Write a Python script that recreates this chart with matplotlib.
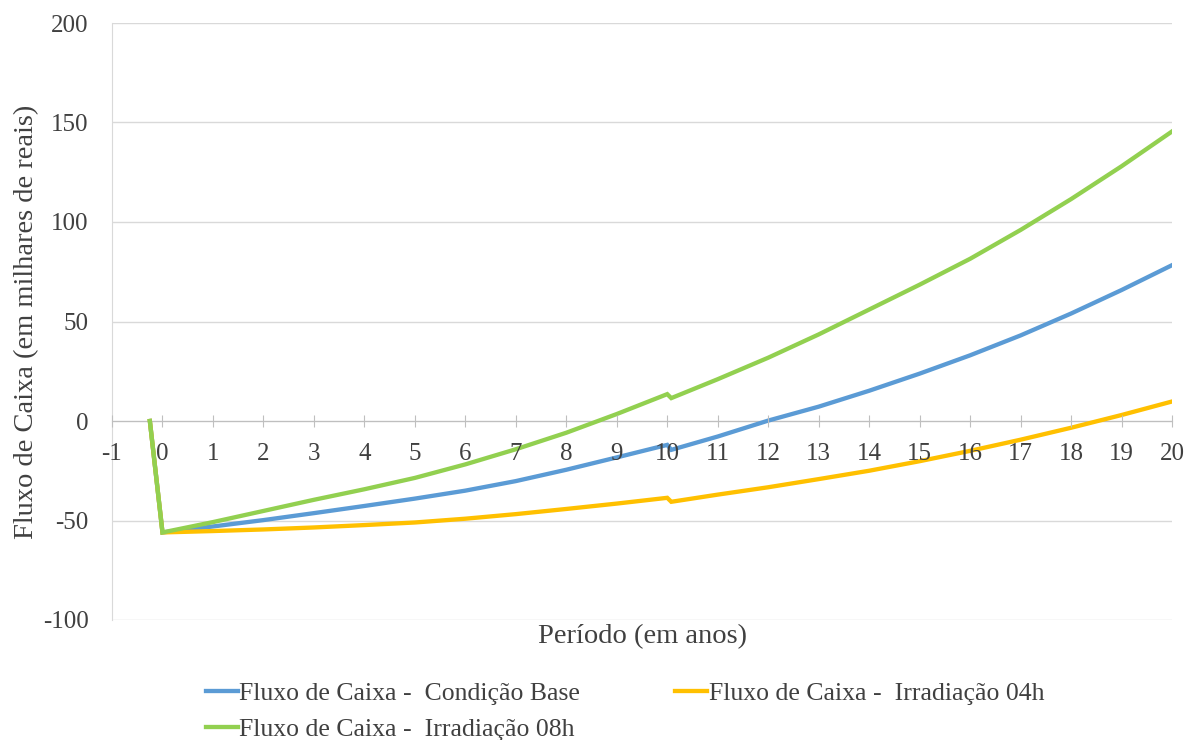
import matplotlib
matplotlib.use("Agg")
import matplotlib.pyplot as plt
from matplotlib.lines import Line2D

# Period in years (the drop right after year 10 is the inverter replacement)
periodo = [-0.25, 0, 1, 2, 3, 4, 5, 6, 7, 8, 9, 10, 10.08,
           11, 12, 13, 14, 15, 16, 17, 18, 19, 20]

# Cumulative cash flow, in thousands of reais
fluxo_base = [0, -56, -53.0, -49.8, -46.3, -42.7, -39.0, -35.0, -30.2, -24.5,
              -18.3, -12.0, -14.5, -7.8, 0.2, 7.2, 15.2, 23.8, 33.0, 43.0,
              54.0, 65.8, 78.3]
fluxo_04h = [0, -56, -55.3, -54.5, -53.5, -52.3, -51.0, -49.1, -46.8, -44.2,
             -41.5, -38.6, -40.6, -37.0, -33.3, -29.2, -25.0, -20.2, -15.0,
             -9.4, -3.4, 3.0, 9.8]
fluxo_08h = [0, -56, -50.8, -45.2, -39.6, -34.3, -28.6, -21.8, -14.2, -5.9,
             3.5, 13.5, 11.5, 21.0, 31.8, 43.5, 56.0, 68.5, 81.5, 96.0,
             111.5, 128.0, 145.5]

nomes = ["Fluxo de Caixa -  Condição Base",
         "Fluxo de Caixa -  Irradiação 04h",
         "Fluxo de Caixa -  Irradiação 08h"]
cores = ["#5B9BD5", "#FFC000", "#92D050"]

x_ticks = list(range(-1, 21))
y_ticks = [-100, -50, 0, 50, 100, 150, 200]

plt.rcParams["font.family"] = ["Liberation Serif", "DejaVu Serif"]
plt.rcParams["axes.unicode_minus"] = False
texto = "#404040"

W, H = 1184, 740
fig = plt.figure(figsize=(W / 100, H / 100), dpi=100)
ax = fig.add_axes([112 / W, 1 - 620 / H, (1172 - 112) / W, (620 - 23) / H])

# horizontal gridlines kept beneath the series
for yv in y_ticks:
    ax.axhline(yv, color="#d9d9d9", lw=1, zorder=0.5)

lw = 3.1
for serie, cor, nome in zip([fluxo_base, fluxo_04h, fluxo_08h], cores, nomes):
    ax.plot(periodo, serie, color=cor, lw=lw, label=nome,
            solid_joinstyle="miter", zorder=2)

ax.set_xlim(-1, 20)
ax.set_ylim(-100, 200)
ax.set_yticks(y_ticks)
ax.set_xticks(x_ticks)
ax.set_xticklabels([str(v) for v in x_ticks])
ax.set_axisbelow(False)

for s in ["top", "right"]:
    ax.spines[s].set_visible(False)
ax.spines["left"].set_color("#d9d9d9")
ax.spines["left"].set_zorder(0.6)
ax.spines["bottom"].set_position(("data", 0))
ax.spines["bottom"].set_color("#bfbfbf")
ax.spines["bottom"].set_zorder(1)

ax.tick_params(axis="y", length=0, pad=17, labelsize=18, labelcolor=texto)
ax.tick_params(axis="x", direction="inout", length=8, color="#bfbfbf",
               pad=12, labelsize=18, labelcolor=texto)

fig.text(642 / W, 1 - 637 / H, "Período (em anos)", ha="center", va="center",
         fontsize=20.5, color=texto)
fig.text(27 / W, 1 - 322 / H, "Fluxo de Caixa (em milhares de reais)",
         ha="center", va="center", rotation=90, fontsize=20.5, color=texto)

handles = [Line2D([], [], color=c, lw=lw) for c in cores]
order = [0, 2, 1]
fig.legend([handles[i] for i in order], [nomes[i] for i in order],
           loc="upper left", bbox_to_anchor=(206 / W, 1 - 682 / H),
           ncol=2, frameon=False, fontsize=18.5, handlelength=1.25,
           handletextpad=0.05, columnspacing=3.7, labelspacing=0.5,
           borderpad=0, borderaxespad=0, labelcolor=texto)

fig.savefig("out.png", dpi=100)
